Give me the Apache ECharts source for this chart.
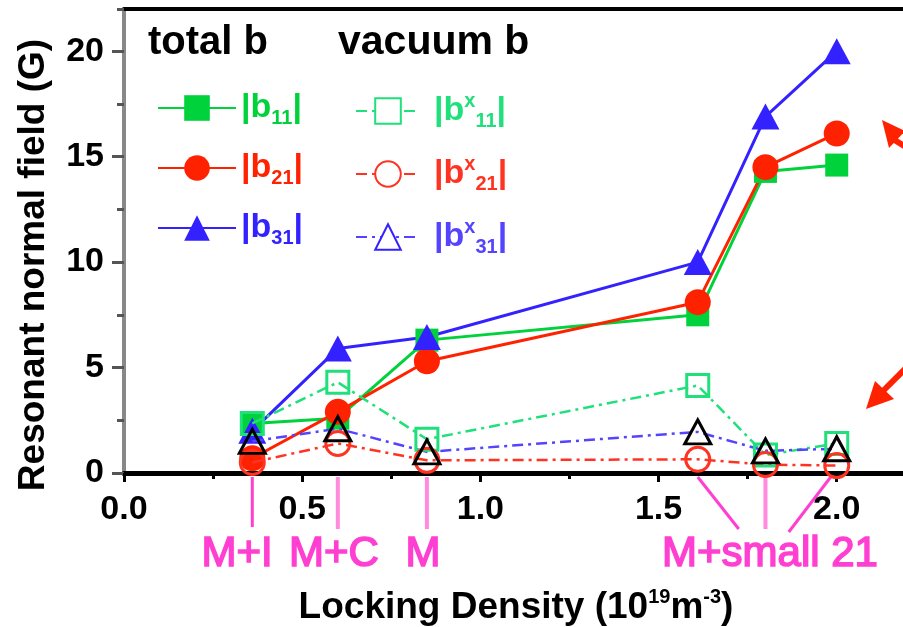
<!DOCTYPE html>
<html><head><meta charset="utf-8">
<script src="https://cdn.jsdelivr.net/npm/echarts@6/dist/echarts.min.js"></script>
<style>html,body{margin:0;padding:0;background:#fff}#c{width:903px;height:627px}</style>
</head><body><div id="c"></div>
<script>
// ---- data ----
const density  = [0.36, 0.60, 0.85, 1.61, 1.80, 2.00];   // locking density (10^19 m^-3)
const totalB11 = [2.35, 2.6, 6.3, 7.5, 14.3, 14.6];
const totalB21 = [0.7, 2.9, 5.3, 8.1, 14.5, 16.1];
const totalB31 = [2.0, 5.9, 6.45, 10.0, 16.9, 20.0];
const vacB11   = [2.35, 4.3, 1.6, 4.15, 0.85, 1.4];
const vacB21   = [0.5, 1.4, 0.6, 0.65, 0.4, 0.35];
const vacB31   = [1.5, 2.1, 1.0, 1.95, 1.05, 1.15];
const annotLabels = ['M+I', 'M+C', 'M', 'M+small 21'];
const annotX = [0.36, 0.60, 0.85, 1.61, 1.80, 2.00];

const GREEN = '#00d23c', RED = '#ff2200', BLUE = '#3322ff';
const LGREEN = '#1fe07a', LRED = '#ff3322', LBLUE = '#5544ff';
const PINK = '#ff3fd2', LPINK = '#ff8ade';
const FF = "'Liberation Sans', Arial, sans-serif";

function pairs(ys){ return density.map((x,i)=>[x, ys[i]]); }

function totalSeries(name, ys, color, symbol, size){
  return {name, type:'line', data:pairs(ys), symbol, symbolSize:size, z:3,
    lineStyle:{color, width:3}, itemStyle:{color}, xAxisIndex:0, yAxisIndex:0};
}
function vacSeries(name, ys, color, symbol, size, border){
  return {name, type:'line', data:pairs(ys), symbol, symbolSize:size, z:4,
    lineStyle:{color, width:2.5, type:[11,5,3,5]},
    itemStyle:{color:'rgba(255,255,255,0)', borderColor:border||color, borderWidth:3},
    xAxisIndex:0, yAxisIndex:0};
}

const rich = {};
[['g',GREEN],['r',RED],['b',BLUE],['G',LGREEN],['R',LRED],['B',LBLUE]].forEach(([k,c])=>{
  rich[k]   = {color:c, fontSize:34, fontWeight:'bold', fontFamily:FF, lineHeight:40};
  rich[k+'s'] = {color:c, fontSize:20, fontWeight:'bold', fontFamily:FF, lineHeight:20, verticalAlign:'bottom'};
  rich[k+'p'] = {color:c, fontSize:20, fontWeight:'bold', fontFamily:FF, lineHeight:20, verticalAlign:'top'};
});
const legendText = {
  '|b11|':'{g||b}{gs|11}{g||}', '|b21|':'{r||b}{rs|21}{r||}', '|b31|':'{b||b}{bs|31}{b||}',
  '|bx11|':'{G||b}{Gp|x}{Gs|11}{G||}', '|bx21|':'{R||b}{Rp|x}{Rs|21}{R||}', '|bx31|':'{B||b}{Bp|x}{Bs|31}{B||}'
};

const chart = echarts.init(document.getElementById('c'));
const tickFont = {fontSize:34, fontWeight:'bold', fontFamily:FF, color:'#000'};

chart.setOption({
  animation:false,
  backgroundColor:'#fff',
  grid:{left:124, right:-5, top:9, bottom:154, containLabel:false, outerBoundsMode:'none'},
  xAxis:[
    {type:'value', min:0, max:2.2, interval:0.5, position:'bottom',
     axisLine:{lineStyle:{color:'#000', width:5}},
     axisTick:{length:9, lineStyle:{color:'#000', width:3}},
     axisLabel:{...tickFont, margin:20, showMaxLabel:false, formatter:v=>v.toFixed(1)},
     splitLine:{show:false},
     name:'{t|Locking Density (10}{s|19}{t|m}{s|-3}{t|)}', nameLocation:'middle', nameGap:114,
     nameTextStyle:{rich:{t:{fontSize:37, fontWeight:'bold', fontFamily:FF, color:'#000', lineHeight:42},
                          s:{fontSize:20, fontWeight:'bold', fontFamily:FF, color:'#000', lineHeight:20, verticalAlign:'top'}}}},
    {type:'value', min:0, max:2.2, interval:0.25, position:'bottom',
     axisLine:{show:false}, axisTick:{length:6, lineStyle:{color:'#000', width:3}},
     axisLabel:{show:false}, splitLine:{show:false}},
    {type:'value', min:0, max:2.2, position:'top',
     axisLine:{lineStyle:{color:'#000', width:4}}, axisTick:{show:false},
     axisLabel:{show:false}, splitLine:{show:false}}
  ],
  yAxis:[
    {type:'value', min:0, max:22, interval:5, position:'left',
     axisLine:{show:true, lineStyle:{color:'#888', width:4}},
     axisTick:{show:true, length:12, lineStyle:{color:'#555', width:3}},
     axisLabel:{...tickFont, margin:20, showMaxLabel:false},
     splitLine:{show:false}},
    {type:'value', min:0, max:22, interval:2.5, position:'left',
     axisLine:{show:false}, axisTick:{show:true, length:7, lineStyle:{color:'#555', width:3}},
     axisLabel:{show:false}, splitLine:{show:false}}
  ],
  legend:[
    {left:152, top:86, orient:'vertical', itemWidth:78, itemHeight:32, itemGap:23,
     selectedMode:false, data:['|b11|','|b21|','|b31|'],
     formatter:n=>legendText[n], textStyle:{rich}},
    {left:350, top:86, orient:'vertical', itemWidth:64, itemHeight:32, itemGap:23,
     selectedMode:false,
     data:[{name:'|bx11|', itemStyle:{color:'#fff'}},
           {name:'|bx21|', itemStyle:{color:'#fff'}},
           {name:'|bx31|', itemStyle:{color:'#fff', borderColor:BLUE}}],
     formatter:n=>legendText[n], textStyle:{rich, padding:[0,0,0,9]}}
  ],
  series:[
    totalSeries('|b11|', totalB11, GREEN, 'rect', 23),
    totalSeries('|b21|', totalB21, RED, 'circle', 26),
    totalSeries('|b31|', totalB31, BLUE, 'triangle', [28,26]),
    vacSeries('|bx11|', vacB11, LGREEN, 'rect', 22),
    vacSeries('|bx21|', vacB21, LRED, 'circle', 24),
    vacSeries('|bx31|', vacB31, LBLUE, 'triangle', [26,24], '#000')
  ]
});

// annotations below the axis, anchored on data positions
const px = annotX.map(x => chart.convertToPixel({xAxisIndex:0}, x));
const yTop = 477, yBot = 529, textY = 554;
const g = [];
g.push({type:'line', shape:{x1:px[0], y1:yTop, x2:px[0], y2:yBot-2}, style:{stroke:PINK, lineWidth:3}});
g.push({type:'line', shape:{x1:px[1], y1:yTop, x2:px[1], y2:yBot}, style:{stroke:LPINK, lineWidth:4}});
g.push({type:'line', shape:{x1:px[2], y1:yTop, x2:px[2], y2:yBot}, style:{stroke:LPINK, lineWidth:4}});
g.push({type:'line', shape:{x1:px[3], y1:yTop, x2:px[3]+41, y2:yBot}, style:{stroke:PINK, lineWidth:3}});
g.push({type:'line', shape:{x1:px[4], y1:yTop, x2:px[4], y2:yBot}, style:{stroke:LPINK, lineWidth:4}});
g.push({type:'line', shape:{x1:px[5]-6, y1:yTop, x2:px[5]-48, y2:yBot+3}, style:{stroke:PINK, lineWidth:3}});
const annFont = {fontSize:42, fontFamily:FF, fill:PINK, stroke:PINK, lineWidth:1.6,
  textVerticalAlign:'middle', textAlign:'center'};
g.push({type:'text', x:237, y:textY, style:{...annFont, text:annotLabels[0]}});
g.push({type:'text', x:334, y:textY, style:{...annFont, text:annotLabels[1]}});
g.push({type:'text', x:423, y:textY, style:{...annFont, text:annotLabels[2]}});
g.push({type:'text', x:770, y:textY, style:{...annFont, text:annotLabels[3]}});
// legend column headers
g.push({type:'text', x:148, y:43, style:{text:'total b', fontSize:40, fontWeight:'bold', fontFamily:FF, fill:'#000', textVerticalAlign:'middle'}});
g.push({type:'text', x:338, y:43, style:{text:'vacuum b', fontSize:41, fontWeight:'bold', fontFamily:FF, fill:'#000', textVerticalAlign:'middle'}});
// y axis title
g.push({type:'text', x:34, y:265, rotation:Math.PI/2,
  style:{text:'Resonant normal field (G)', fontSize:37, fontWeight:'bold', fontFamily:FF, fill:'#000', textAlign:'center', textVerticalAlign:'middle'}});
// red arrows at right edge
g.push({type:'line', shape:{x1:893, y1:139, x2:920, y2:156}, style:{stroke:RED, lineWidth:6}});
g.push({type:'polygon', shape:{points:[[882,120],[889,148],[905,131]]}, style:{fill:RED}});
g.push({type:'line', shape:{x1:882, y1:392, x2:912, y2:362}, style:{stroke:RED, lineWidth:6}});
g.push({type:'polygon', shape:{points:[[866,409],[875,381],[894,399]]}, style:{fill:RED}});
chart.setOption({graphic:g});
</script></body></html>
